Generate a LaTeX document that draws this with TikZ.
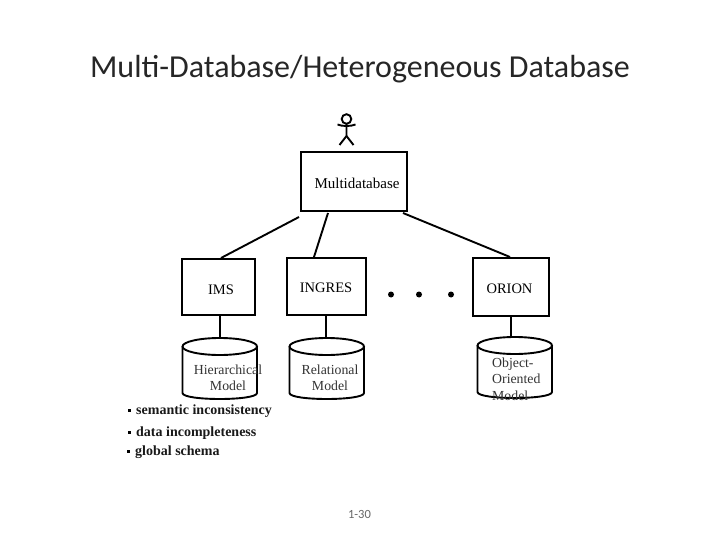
\documentclass[tikz,border=0pt]{standalone}
\usepackage{fontspec}
\setmainfont{Liberation Serif}
\newfontfamily\titlefont{Carlito}
\tikzset{
  box/.style={draw=black,line width=1.9pt,inner sep=0pt,outer sep=0pt,anchor=north west},
  conn/.style={draw=black,line width=1.9pt},
  lab/.style={font=\fontsize{14.5}{16}\selectfont,text=black,align=center,inner sep=0pt},
  mlab/.style={font=\fontsize{13.8}{16}\selectfont,text=black!80,align=center,inner sep=0pt},
  note/.style={font=\bfseries\fontsize{14}{16}\selectfont,text=black!90,anchor=west,inner sep=0pt},
  dotmark/.style={circle,fill=black,inner sep=0pt,minimum size=6pt},
  bul/.style={fill=black,inner sep=0pt,minimum size=3pt},
}
\newcommand{\dbcyl}[5]{% left, right, top, bottom, name
  \draw[conn,fill=white] (#1,#3+8.5) -- (#1,#4-6) .. controls (#1,#4+2) and (#2,#4+2) .. (#2,#4-6) -- (#2,#3+8.5);
  \draw[conn] ({(#1+#2)/2},#3+8.5) ellipse [x radius={(#2-#1)/2},y radius=8.5];
  \coordinate (#5) at ({(#1+#2)/2},#3);
}
\begin{document}
\begin{tikzpicture}[x=1pt,y=-1pt]
\useasboundingbox (0,0) rectangle (720,540);
\node[font=\titlefont\fontsize{32}{34}\selectfont,text=black!85,inner sep=0pt,anchor=base] (title) at (360,78) {Multi-Database/Heterogeneous Database};
% person
\draw[conn] (346.5,119) circle [radius=4.8];
\draw[conn] (346.5,124) -- (346.5,136) -- (339.5,145);
\draw[conn] (346.5,136) -- (353.5,145);
\draw[conn] (337.5,124.5) .. controls (342,126.5) and (351,126.5) .. (355.5,124.5);
% boxes
\node[box,minimum width=106pt,minimum height=59pt] (multi) at (301,152) {};
\node[box,minimum width=73pt,minimum height=56pt] (ims) at (182,259) {};
\node[box,minimum width=79pt,minimum height=57pt] (ingres) at (287,258) {};
\node[box,minimum width=76pt,minimum height=58pt] (orion) at (473,258) {};
\node[lab,font=\fontsize{15}{16}\selectfont] (multil) at (357,183) {Multidatabase};
\node[lab] (imsl) at (221,289.5) {IMS};
\node[lab] (ingresl) at (326,288) {INGRES};
\node[lab] (orionl) at (509.5,289) {ORION};
% cylinders
\dbcyl{182.5}{257}{338}{399}{c1}
\dbcyl{289.5}{364}{338}{399}{c2}
\dbcyl{477.5}{552}{337}{398}{c3}
\node[mlab] (m1) at (228,378) {Hierarchical\\[0pt]Model};
\node[mlab] (m2) at (330,377.5) {Relational\\[0pt]Model};
\node[mlab,align=left,anchor=north west,font=\fontsize{13.8}{16.2}\selectfont] (m3) at (492,358) {Object-\\Oriented\\Model};
% connectors
\coordinate (a1) at (299,217); \coordinate (a2) at (221,258);
\coordinate (b1) at (328,213); \coordinate (b2) at (314,257);
\coordinate (d1) at (403,213); \coordinate (d2) at (510,257);
\draw[conn] (a1) -- (a2);
\draw[conn] (b1) -- (b2);
\draw[conn] (d1) -- (d2);
\draw[conn] (ims.south -| c1) -- (c1);
\draw[conn] (ingres.south -| c2) ++(-1,0) -- ([xshift=-1pt]c2);
\draw[conn] (orion.south -| c3) ++(-4,0) -- ([xshift=-4pt]c3);
% dots
\node[dotmark] (e1) at (391,294.5) {};
\node[dotmark] (e2) at (419,294.5) {};
\node[dotmark] (e3) at (451,294.5) {};
% notes
\node[note] (n1) at (136,411.5) {semantic inconsistency};
\node[note] (n2) at (136,433) {data incompleteness};
\node[note] (n3) at (135,452) {global schema};
\node[bul] (b1n) at (129.5,410.5) {};
\node[bul] (b2n) at (129.5,432) {};
\node[bul] (b3n) at (128,451) {};
\node[font=\titlefont\fontsize{12.5}{14}\selectfont,text=black!60,inner sep=0pt] (pg) at (359.5,514.5) {1-30};
\end{tikzpicture}
\end{document}
